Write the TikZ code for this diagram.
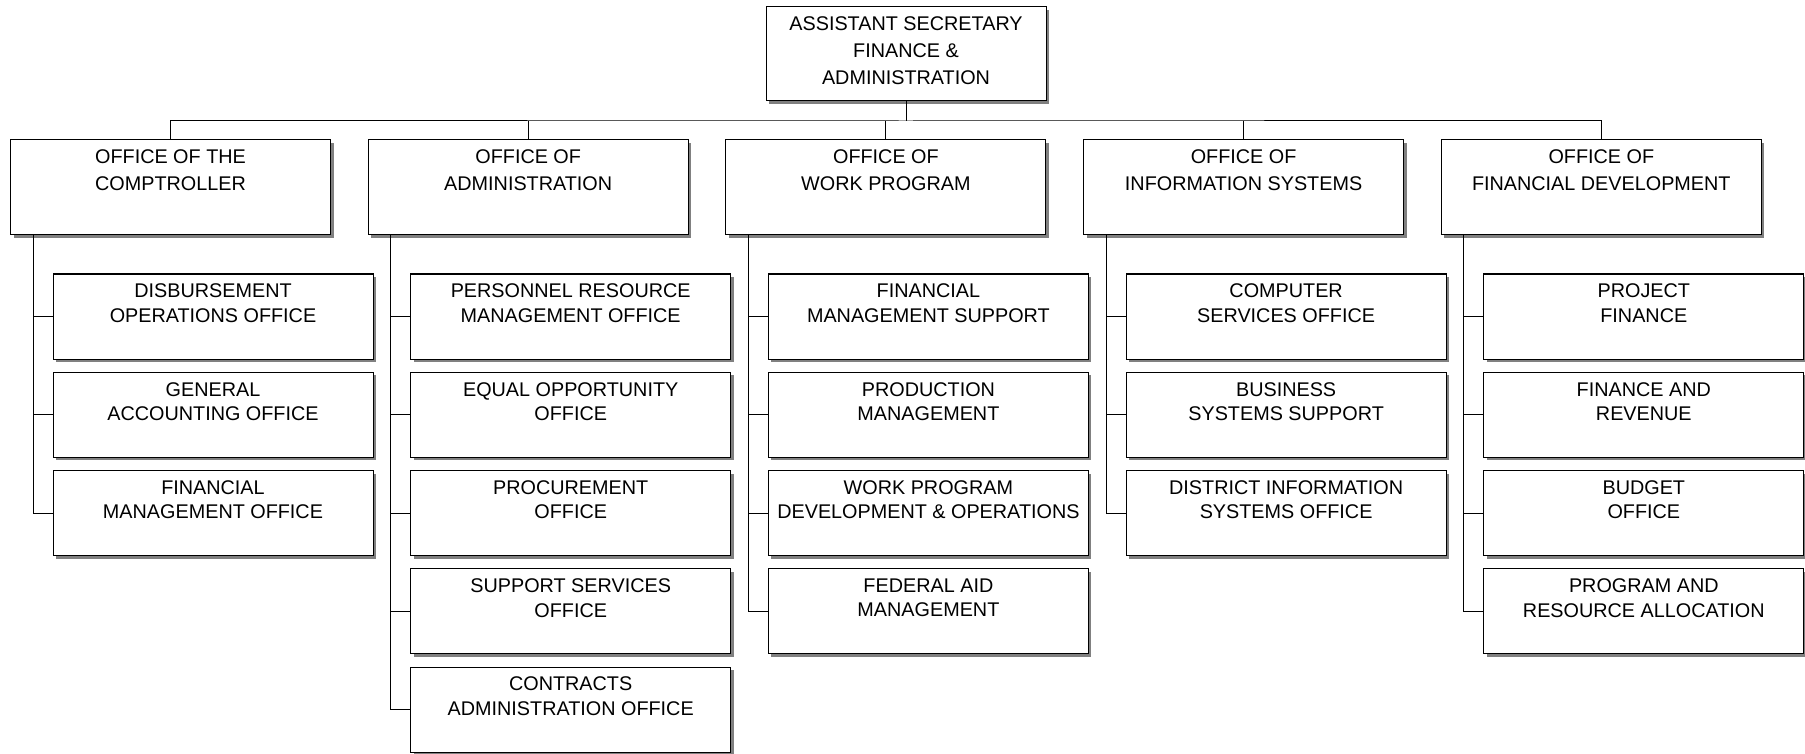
\documentclass[tikz,border=0pt]{standalone}
\usepackage{fontspec}
\setmainfont{Liberation Sans}
\usetikzlibrary{shadows}

\begin{document}
\begin{tikzpicture}[x=1pt, y=-1pt, line width=1pt,
    orgbox/.style={draw, fill=white, inner sep=0pt, minimum width=320pt, minimum height=85pt,
        drop shadow={shadow xshift=3pt, shadow yshift=-3pt, fill=black!50, opacity=1}},
    headtext/.style={anchor=north, yshift=-9.2pt, align=center, inner sep=0pt, font=\fontsize{19.8}{27}\selectfont},
    subtext/.style={anchor=north, yshift=-10pt, align=center, inner sep=0pt, font=\fontsize{19.8}{24.5}\selectfont},
    headbox/.style={orgbox, minimum height=95pt, label={[headtext]north:{#1}}},
    subbox/.style={orgbox, label={[subtext]north:{#1}}}]
        \useasboundingbox (0,0) rectangle (1805,754);

        % top
        \node[headbox={ASSISTANT SECRETARY\\FINANCE \&\\ADMINISTRATION}, minimum width=280pt, minimum height=94pt] (asst) at (906,54) {};

        % offices
        \node[headbox={OFFICE OF THE\\COMPTROLLER}] (comp) at (170.5,187.5) {};
        \node[headbox={OFFICE OF\\ADMINISTRATION}] (admin) at (528.2,187.5) {};
        \node[headbox={OFFICE OF\\WORK PROGRAM}] (work) at (885.9,187.5) {};
        \node[headbox={OFFICE OF\\INFORMATION SYSTEMS}] (info) at (1243.6,187.5) {};
        \node[headbox={OFFICE OF\\FINANCIAL DEVELOPMENT}] (fin) at (1601.3,187.5) {};

        % comptroller
        \node[subbox={DISBURSEMENT\\OPERATIONS OFFICE}] (comp1) at (213,316.5) {};
        \node[subbox={GENERAL\\ACCOUNTING OFFICE}] (comp2) at (213,414.75) {};
        \node[subbox={FINANCIAL\\MANAGEMENT OFFICE}] (comp3) at (213,513) {};

        % administration
        \node[subbox={PERSONNEL RESOURCE\\MANAGEMENT OFFICE}] (admin1) at (570.7,316.5) {};
        \node[subbox={EQUAL OPPORTUNITY\\OFFICE}] (admin2) at (570.7,414.75) {};
        \node[subbox={PROCUREMENT\\OFFICE}] (admin3) at (570.7,513) {};
        \node[subbox={SUPPORT SERVICES\\OFFICE}] (admin4) at (570.7,611.25) {};
        \node[subbox={CONTRACTS\\ADMINISTRATION OFFICE}] (admin5) at (570.7,709.5) {};

        % work program
        \node[subbox={FINANCIAL\\MANAGEMENT SUPPORT}] (work1) at (928.4,316.5) {};
        \node[subbox={PRODUCTION\\MANAGEMENT}] (work2) at (928.4,414.75) {};
        \node[subbox={WORK PROGRAM\\DEVELOPMENT \& OPERATIONS}] (work3) at (928.4,513) {};
        \node[subbox={FEDERAL AID\\MANAGEMENT}] (work4) at (928.4,611.25) {};

        % information systems
        \node[subbox={COMPUTER\\SERVICES OFFICE}] (info1) at (1286.1,316.5) {};
        \node[subbox={BUSINESS\\SYSTEMS SUPPORT}] (info2) at (1286.1,414.75) {};
        \node[subbox={DISTRICT INFORMATION\\SYSTEMS OFFICE}] (info3) at (1286.1,513) {};

        % financial development
        \node[subbox={PROJECT\\FINANCE}] (fin1) at (1643.8,316.5) {};
        \node[subbox={FINANCE AND\\REVENUE}] (fin2) at (1643.8,414.75) {};
        \node[subbox={BUDGET\\OFFICE}] (fin3) at (1643.8,513) {};
        \node[subbox={PROGRAM AND\\RESOURCE ALLOCATION}] (fin4) at (1643.8,611.25) {};

        % lines
        \coordinate (bus) at (906,121);
        \draw (asst.south) -- (bus);
        \draw (comp.north) |- (bus) -| (fin.north);
        \foreach \p in {admin, work, info}
            \draw (\p.north) -- (\p.north |- bus);

        \foreach \p/\n in {comp/3, admin/5, work/4, info/3, fin/4} {
            \coordinate (\p-t) at ([xshift=23pt]\p.south west);
            \foreach \k in {1,...,\n}
                \draw (\p\k.west) -| (\p-t);
        }
    \end{tikzpicture}
\end{document}
